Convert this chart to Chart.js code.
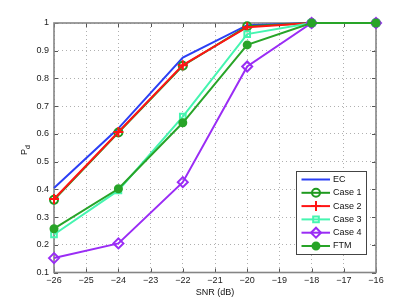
<!DOCTYPE html>
<html><head><meta charset="utf-8">
<script src="https://cdn.jsdelivr.net/npm/chart.js@4"></script>
<style>html,body{margin:0;padding:0;background:#fff}#wrap{width:415px;height:307px}</style>
</head><body><div id="wrap"><canvas id="c" width="415" height="307"></canvas></div>
<script>
const snr = [-26, -24, -22, -20, -18, -16];
const ec    = [0.405, 0.620, 0.875, 0.992, 1.0, 1.0];
const case1 = [0.362, 0.605, 0.846, 0.988, 1.0, 1.0];
const case2 = [0.365, 0.607, 0.848, 0.985, 1.0, 1.0];
const case3 = [0.237, 0.396, 0.662, 0.960, 1.0, 1.0];
const case4 = [0.152, 0.205, 0.426, 0.843, 1.0, 1.0];
const ftm   = [0.258, 0.402, 0.640, 0.921, 1.0, 1.0];
const xTicks = [-26, -25, -24, -23, -22, -21, -20, -19, -18, -17, -16];
const yTicks = [0.1, 0.2, 0.3, 0.4, 0.5, 0.6, 0.7, 0.8, 0.9, 1];
const names = ['EC', 'Case 1', 'Case 2', 'Case 3', 'Case 4', 'FTM'];

const FONT = '"Liberation Sans", Arial, sans-serif';
const pts = ys => snr.map((x, i) => ({x, y: ys[i]}));

const specs = [
  {data: ec, color: '#2b3ff5', style: false, fill: false, r: 0},
  {data: case1, color: '#1f9a1f', style: 'circle', fill: false, r: 4},
  {data: case2, color: '#ff1414', style: 'cross', fill: false, r: 5},
  {data: case3, color: '#45f5b0', style: 'rect', fill: false, r: 4},
  {data: case4, color: '#9a2cf5', style: 'rectRot', fill: false, r: 5},
  {data: ftm, color: '#28a428', style: 'circle', fill: true, r: 3.5}
];

const datasets = specs.map((s, i) => ({
  label: names[i],
  data: pts(s.data),
  borderColor: s.color,
  backgroundColor: s.fill ? s.color : 'rgba(0,0,0,0)',
  borderWidth: 2,
  pointStyle: s.style,
  pointRadius: s.r,
  pointBorderWidth: 2,
  pointBorderColor: s.color,
  pointBackgroundColor: s.fill ? s.color : 'rgba(0,0,0,0)',
  tension: 0,
  clip: false,
  order: specs.length - i
}));

const deco = {
  id: 'deco',
  beforeDatasetsDraw(chart) {
    const ctx = chart.ctx, a = chart.chartArea;
    const xs = chart.scales.x, ys = chart.scales.y;
    ctx.save();
    ctx.strokeStyle = '#555';
    ctx.lineWidth = 1;
    ctx.beginPath();
    xTicks.forEach(v => {
      const px = Math.round(xs.getPixelForValue(v)) + 0.5;
      ctx.moveTo(px, a.bottom); ctx.lineTo(px, a.bottom - 4);
      ctx.moveTo(px, a.top); ctx.lineTo(px, a.top + 4);
    });
    yTicks.forEach(v => {
      const py = Math.round(ys.getPixelForValue(v)) + 0.5;
      ctx.moveTo(a.left, py); ctx.lineTo(a.left + 4, py);
      ctx.moveTo(a.right, py); ctx.lineTo(a.right - 4, py);
    });
    ctx.stroke();
    ctx.strokeStyle = '#858585';
    ctx.lineWidth = 1.6;
    ctx.strokeRect(a.left, a.top, a.right - a.left, a.bottom - a.top);
    ctx.restore();
  },
  afterDraw(chart) {
    const ctx = chart.ctx, a = chart.chartArea;
    ctx.save();
    ctx.fillStyle = '#111';
    ctx.translate(27, 150);
    ctx.rotate(-Math.PI / 2);
    ctx.textBaseline = 'alphabetic';
    ctx.font = '9px ' + FONT;
    const pw = ctx.measureText('P').width;
    ctx.font = '7px ' + FONT;
    const dw = ctx.measureText('d').width;
    const tot = pw + dw;
    ctx.font = '9px ' + FONT;
    ctx.fillText('P', -tot / 2, 0);
    ctx.font = '7px ' + FONT;
    ctx.fillText('d', -tot / 2 + pw, 3);
    ctx.restore();

    ctx.save();
    ctx.fillStyle = '#111';
    ctx.font = '9px ' + FONT;
    ctx.textAlign = 'center';
    ctx.textBaseline = 'middle';
    ctx.fillText('SNR (dB)', (a.left + a.right) / 2, 293);

    const lx = 296, ly = 171, lw = 70, lh = 83;
    ctx.fillStyle = '#fff';
    ctx.fillRect(lx, ly, lw, lh);
    ctx.strokeStyle = '#444';
    ctx.lineWidth = 1;
    ctx.strokeRect(lx + 0.5, ly + 0.5, lw, lh);
    ctx.textAlign = 'left';
    specs.forEach((s, i) => {
      const yy = 179.5 + i * 13.3;
      ctx.strokeStyle = s.color;
      ctx.lineWidth = 2;
      ctx.beginPath();
      ctx.moveTo(301.5, yy); ctx.lineTo(330, yy);
      ctx.stroke();
      if (s.style) {
        ctx.fillStyle = s.fill ? s.color : 'rgba(0,0,0,0)';
        ctx.strokeStyle = s.color;
        ctx.lineWidth = 2;
        Chart.helpers.drawPoint(ctx, {
          pointStyle: s.style, radius: s.r, borderWidth: 2, rotation: 0
        }, 316, yy);
      }
      ctx.fillStyle = '#111';
      ctx.font = '9px ' + FONT;
      ctx.fillText(names[i], 333, yy);
    });
    ctx.restore();
  }
};

new Chart(document.getElementById('c'), {
  type: 'line',
  data: {datasets},
  options: {
    responsive: false,
    animation: false,
    devicePixelRatio: 1,
    layout: {padding: {top: 23, right: 39, left: 0, bottom: 0}},
    plugins: {legend: {display: false}, tooltip: {enabled: false}},
    scales: {
      x: {
        type: 'linear', min: -26, max: -16,
        afterFit: s => { s.height = 34.5; },
        afterBuildTicks: s => { s.ticks = xTicks.map(v => ({value: v})); },
        ticks: {
          font: {family: FONT, size: 9}, color: '#222', padding: 3,
          maxRotation: 0, autoSkip: false,
          callback: v => String(v).replace('-', '\u2212')
        },
        grid: {color: '#b0b0b0', lineWidth: 1, drawTicks: false},
        border: {display: false, dash: [1, 3]}
      },
      y: {
        type: 'linear', min: 0.1, max: 1,
        afterFit: s => { s.width = 54; },
        afterBuildTicks: s => { s.ticks = yTicks.map(v => ({value: v})); },
        ticks: {
          font: {family: FONT, size: 9}, color: '#222', padding: 5,
          autoSkip: false,
          callback: v => (Math.round(v * 10) / 10).toString()
        },
        grid: {color: '#b0b0b0', lineWidth: 1, drawTicks: false},
        border: {display: false, dash: [1, 3]}
      }
    }
  },
  plugins: [deco]
});
</script>
</body></html>
